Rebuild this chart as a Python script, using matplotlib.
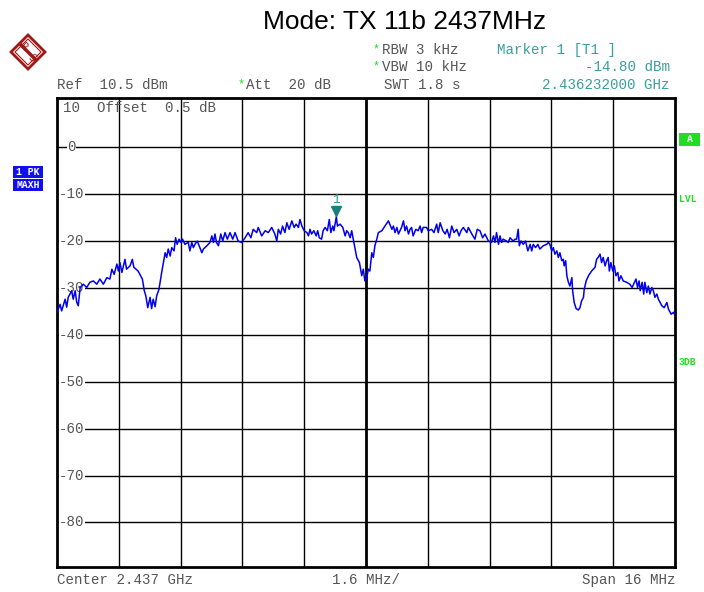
import matplotlib
matplotlib.use("Agg")
import matplotlib.pyplot as plt
from matplotlib.patches import Polygon, Rectangle
import numpy as np

# ---- data (frequency in MHz, level in dBm) ----
freq_mhz = [
    2429.00, 2429.08, 2429.12, 2429.21, 2429.25, 2429.29, 2429.38, 2429.42, 2429.47, 2429.51,
    2429.55, 2429.60, 2429.68, 2429.77, 2429.85, 2429.94, 2430.03, 2430.11, 2430.20, 2430.29,
    2430.37, 2430.42, 2430.48, 2430.55, 2430.59, 2430.63, 2430.68, 2430.76, 2430.80, 2430.89,
    2430.95, 2430.99, 2431.10, 2431.21, 2431.26, 2431.30, 2431.35, 2431.41, 2431.45, 2431.49,
    2431.54, 2431.58, 2431.64, 2431.71, 2431.80, 2431.84, 2431.88, 2431.93, 2431.97, 2432.03,
    2432.07, 2432.11, 2432.16, 2432.21, 2432.25, 2432.31, 2432.40, 2432.44, 2432.49, 2432.53,
    2432.57, 2432.63, 2432.68, 2432.75, 2432.79, 2432.88, 2432.96, 2433.01, 2433.05, 2433.09,
    2433.13, 2433.18, 2433.24, 2433.29, 2433.35, 2433.41, 2433.48, 2433.55, 2433.61, 2433.69,
    2433.78, 2433.87, 2433.95, 2434.02, 2434.08, 2434.17, 2434.21, 2434.30, 2434.39, 2434.47,
    2434.56, 2434.64, 2434.69, 2434.73, 2434.79, 2434.84, 2434.90, 2434.95, 2435.01, 2435.08,
    2435.14, 2435.19, 2435.25, 2435.29, 2435.34, 2435.40, 2435.47, 2435.51, 2435.55, 2435.59,
    2435.65, 2435.71, 2435.75, 2435.79, 2435.85, 2435.89, 2435.94, 2436.00, 2436.05, 2436.09,
    2436.14, 2436.17, 2436.232, 2436.26, 2436.33, 2436.40, 2436.46, 2436.50, 2436.54, 2436.59,
    2436.63, 2436.67, 2436.72, 2436.76, 2436.83, 2436.89, 2436.93, 2436.97, 2437.02, 2437.06,
    2437.10, 2437.15, 2437.19, 2437.23, 2437.28, 2437.32, 2437.41, 2437.49, 2437.58, 2437.67,
    2437.71, 2437.75, 2437.80, 2437.84, 2437.92, 2437.97, 2438.01, 2438.05, 2438.10, 2438.14,
    2438.18, 2438.22, 2438.29, 2438.35, 2438.40, 2438.44, 2438.48, 2438.57, 2438.61, 2438.70,
    2438.76, 2438.83, 2438.87, 2438.92, 2438.99, 2439.05, 2439.10, 2439.16, 2439.22, 2439.28,
    2439.35, 2439.41, 2439.46, 2439.52, 2439.61, 2439.65, 2439.74, 2439.82, 2439.88, 2439.95,
    2440.02, 2440.08, 2440.17, 2440.25, 2440.30, 2440.34, 2440.38, 2440.43, 2440.47, 2440.51,
    2440.55, 2440.64, 2440.68, 2440.73, 2440.81, 2440.86, 2440.90, 2440.94, 2440.97, 2441.01,
    2441.07, 2441.13, 2441.19, 2441.25, 2441.29, 2441.33, 2441.39, 2441.45, 2441.50, 2441.59,
    2441.68, 2441.72, 2441.76, 2441.81, 2441.85, 2441.89, 2441.94, 2441.98, 2442.02, 2442.07,
    2442.11, 2442.13, 2442.17, 2442.20, 2442.24, 2442.28, 2442.33, 2442.35, 2442.39, 2442.44,
    2442.50, 2442.54, 2442.58, 2442.63, 2442.65, 2442.70, 2442.76, 2442.84, 2442.93, 2442.97,
    2443.01, 2443.06, 2443.10, 2443.14, 2443.19, 2443.23, 2443.27, 2443.30, 2443.34, 2443.39,
    2443.43, 2443.47, 2443.52, 2443.55, 2443.60, 2443.66, 2443.75, 2443.83, 2443.89, 2443.95,
    2443.99, 2444.03, 2444.07, 2444.10, 2444.15, 2444.19, 2444.22, 2444.27, 2444.31, 2444.35,
    2444.40, 2444.44, 2444.48, 2444.53, 2444.57, 2444.66, 2444.72, 2444.79, 2444.83, 2444.90,
    2444.96, 2445.00,
]
level_dbm = [
    -35.2, -33.5, -34.9, -32.4, -34.1, -32.0, -30.6, -32.4, -30.6, -33.0,
    -33.8, -29.9, -29.2, -29.9, -28.8, -28.5, -29.2, -28.1, -29.2, -27.8,
    -28.1, -26.0, -27.1, -24.9, -26.4, -24.6, -26.7, -23.9, -26.0, -25.3,
    -23.9, -25.6, -26.4, -28.1, -30.6, -31.7, -34.2, -32.0, -34.4, -32.4,
    -34.0, -31.7, -30.3, -26.7, -22.5, -23.5, -21.7, -23.2, -21.4, -22.1,
    -19.3, -20.7, -19.6, -20.3, -19.6, -20.7, -20.3, -22.1, -20.3, -21.4,
    -20.7, -20.0, -21.0, -22.5, -21.7, -21.0, -20.3, -18.9, -20.3, -18.5,
    -20.3, -21.0, -18.5, -20.0, -18.2, -19.6, -18.2, -19.6, -18.2, -20.0,
    -20.3, -19.3, -18.2, -19.3, -17.5, -18.2, -17.1, -18.9, -17.8, -18.2,
    -17.1, -18.5, -20.0, -17.5, -18.5, -16.8, -18.2, -16.1, -17.5, -15.7,
    -17.1, -16.4, -17.1, -15.4, -16.8, -17.8, -18.2, -18.9, -17.5, -18.5,
    -17.8, -18.9, -17.8, -19.3, -19.6, -17.8, -17.1, -17.8, -15.4, -18.2,
    -16.8, -17.8, -14.8, -16.8, -16.4, -17.1, -18.9, -17.8, -18.2, -19.3,
    -17.8, -19.6, -21.7, -23.5, -24.6, -27.4, -26.0, -28.5, -27.8, -26.0,
    -26.4, -22.5, -23.5, -21.0, -19.6, -18.2, -17.8, -16.8, -15.7, -17.5,
    -16.8, -18.2, -17.1, -18.5, -17.1, -15.7, -17.8, -16.8, -18.5, -17.5,
    -17.1, -18.9, -17.5, -17.8, -16.8, -18.2, -17.1, -17.1, -17.8, -17.5,
    -18.2, -16.4, -18.2, -16.1, -17.8, -18.5, -17.5, -19.3, -16.8, -18.2,
    -17.5, -18.9, -17.8, -17.1, -18.2, -17.1, -18.5, -19.6, -17.5, -17.8,
    -19.3, -18.5, -20.0, -20.3, -18.9, -20.3, -18.2, -20.7, -18.9, -20.3,
    -19.6, -20.0, -20.3, -19.3, -20.0, -19.6, -19.6, -17.5, -21.0, -20.0,
    -20.7, -20.0, -22.1, -20.7, -22.1, -20.7, -21.4, -20.7, -21.7, -21.0,
    -20.7, -20.3, -20.7, -22.1, -21.4, -22.8, -22.1, -23.5, -22.5, -24.2,
    -23.9, -25.3, -24.2, -27.4, -28.8, -29.6, -27.8, -30.6, -33.1, -34.4,
    -34.7, -34.2, -32.8, -32.0, -30.3, -28.5, -27.4, -26.4, -25.6, -23.9,
    -23.5, -22.8, -24.6, -23.5, -25.3, -24.2, -23.5, -26.4, -24.6, -26.4,
    -25.3, -27.4, -26.7, -28.5, -27.4, -28.5, -28.8, -29.2, -29.9, -28.8,
    -28.1, -29.9, -28.5, -30.6, -28.8, -31.3, -28.8, -31.0, -29.6, -31.3,
    -29.9, -30.6, -32.0, -31.3, -32.4, -33.8, -34.2, -33.1, -34.5, -35.6,
    -35.2, -35.8,
]
marker_freq_mhz = 2436.232
marker_level_dbm = -14.80
y_grid_labels = ["0", "-10", "-20", "-30", "-40", "-50", "-60", "-70", "-80"]
y_grid_values = [0, -10, -20, -30, -40, -50, -60, -70, -80]

center_mhz = 2437.0
span_mhz = 16.0
ref_level = 10.5

W, H = 704, 592
fig = plt.figure(figsize=(W / 100, H / 100), dpi=100)
fig.patch.set_facecolor("white")

def fx(px):
    return px / W

def fy(py):
    return 1 - py / H

ax = fig.add_axes([fx(57), fy(567), (675 - 57) / W, (567 - 98) / H])
x0 = center_mhz - span_mhz / 2
x1 = center_mhz + span_mhz / 2
ax.set_xlim(x0, x1)
ax.set_ylim(ref_level - 100, ref_level)
ax.set_xticks([])
ax.set_yticks([])
for s in ax.spines.values():
    s.set_linewidth(2.0)
    s.set_color("black")

# grid
for i in range(1, 10):
    xv = x0 + i * span_mhz / 10
    ax.axvline(xv, color="black", lw=2.0 if i == 5 else 1.0, zorder=1)
for yv in y_grid_values:
    ax.axhline(yv, color="black", lw=1.0, zorder=1)

mono = "Liberation Mono"
FS = 10.2
gray = "#555555"
for lab, yv in zip(y_grid_labels, y_grid_values):
    xs = x0 + 0.26 if lab == "0" else x0 + 0.05
    ax.text(xs, yv, lab, fontsize=FS, family=mono, color=gray,
            va="center", ha="left", zorder=2,
            bbox=dict(facecolor="white", edgecolor="none", pad=0.2))
ax.text(x0 + 0.15, ref_level - 2.1, "10  Offset  0.5 dB", fontsize=FS,
        family=mono, color=gray, va="center", ha="left", zorder=2)

# trace
ax.plot(freq_mhz, level_dbm, color="#0000ee", lw=1.1, zorder=3)

# marker
ax.plot([marker_freq_mhz], [marker_level_dbm + 1.2], marker="v", color="#1a7f7f",
        markersize=7, zorder=4, clip_on=False)
ax.text(marker_freq_mhz, marker_level_dbm + 2.3, "1", color="#2a9a9a", fontsize=9,
        family=mono, ha="center", va="bottom", zorder=4)

# ---- header ----
fig.text(fx(405), fy(22), "Mode: TX 11b 2437MHz", fontsize=19, family="Liberation Sans",
         ha="center", va="center", color="black")

# R&S logo
cx, cy, r = 28, 52, 17
red = "#a01818"
diamond = Polygon([[fx(cx), fy(cy - r)], [fx(cx + r), fy(cy)], [fx(cx), fy(cy + r)],
                   [fx(cx - r), fy(cy)]], closed=True, transform=fig.transFigure,
                  facecolor="white", edgecolor=red, lw=2.0)
fig.patches.append(diamond)
inner = Polygon([[fx(cx), fy(cy - r + 4)], [fx(cx + r - 4), fy(cy)], [fx(cx), fy(cy + r - 4)],
                 [fx(cx - r + 4), fy(cy)]], closed=True, transform=fig.transFigure,
                facecolor="none", edgecolor=red, lw=0.8)
fig.patches.append(inner)
fig.lines.append(plt.Line2D([fx(cx - 8), fx(cx + 8)], [fy(cy - 8), fy(cy + 8)],
                            transform=fig.transFigure, color=red, lw=2.5))
fig.text(fx(cx - 4), fy(cy - 5), "R", fontsize=7, color=red, ha="center", va="center",
         rotation=-45)
fig.text(fx(cx + 4), fy(cy + 6), "S", fontsize=7, color=red, ha="center", va="center",
         rotation=-45)

hdr = dict(fontsize=FS, family=mono, va="center", color=gray)
teal = "#3a9e9e"
green = "#22dd22"
fig.text(fx(57), fy(85), "Ref  10.5 dBm", ha="left", **hdr)
fig.text(fx(238), fy(84), "*", ha="left", fontsize=8.5, family=mono, va="center", color=green)
fig.text(fx(246), fy(85), "Att  20 dB", ha="left", **hdr)
fig.text(fx(373), fy(49), "*", ha="left", fontsize=8.5, family=mono, va="center", color=green)
fig.text(fx(382), fy(50), "RBW 3 kHz", ha="left", **hdr)
fig.text(fx(373), fy(66), "*", ha="left", fontsize=8.5, family=mono, va="center", color=green)
fig.text(fx(382), fy(67), "VBW 10 kHz", ha="left", **hdr)
fig.text(fx(384), fy(85), "SWT 1.8 s", ha="left", **hdr)
fig.text(fx(497), fy(50), "Marker 1 [T1 ]", ha="left", fontsize=FS, family=mono,
         va="center", color=teal)
fig.text(fx(670), fy(67), "-14.80 dBm", ha="right", fontsize=FS, family=mono,
         va="center", color=teal)
fig.text(fx(670), fy(85), "2.436232000 GHz", ha="right", fontsize=FS, family=mono,
         va="center", color=teal)

# left side boxes
for txt, yy in [("1 PK", 172), ("MAXH", 185)]:
    fig.patches.append(Rectangle((fx(13), fy(yy + 6)), 30 / W, 12 / H,
                                 transform=fig.transFigure, facecolor="#1010ee",
                                 edgecolor="none"))
    fig.text(fx(28), fy(yy), txt, ha="center", va="center", fontsize=7, family=mono,
             color="white", fontweight="bold")

# right side
fig.patches.append(Rectangle((fx(679), fy(146)), 21 / W, 13 / H, transform=fig.transFigure,
                             facecolor="#22dd22", edgecolor="none"))
fig.text(fx(689.5), fy(139.5), "A", ha="center", va="center", fontsize=7, family=mono,
         color="white", fontweight="bold")
fig.text(fx(679), fy(199), "LVL", ha="left", va="center", fontsize=7, family=mono,
         color=green, fontweight="bold")
fig.text(fx(679), fy(362), "3DB", ha="left", va="center", fontsize=7, family=mono,
         color=green, fontweight="bold")

# bottom
fig.text(fx(57), fy(580), "Center 2.437 GHz", ha="left", **hdr)
fig.text(fx(366), fy(580), "1.6 MHz/", ha="center", **hdr)
fig.text(fx(675), fy(580), "Span 16 MHz", ha="right", **hdr)

fig.savefig("out.png", dpi=100, facecolor="white")
